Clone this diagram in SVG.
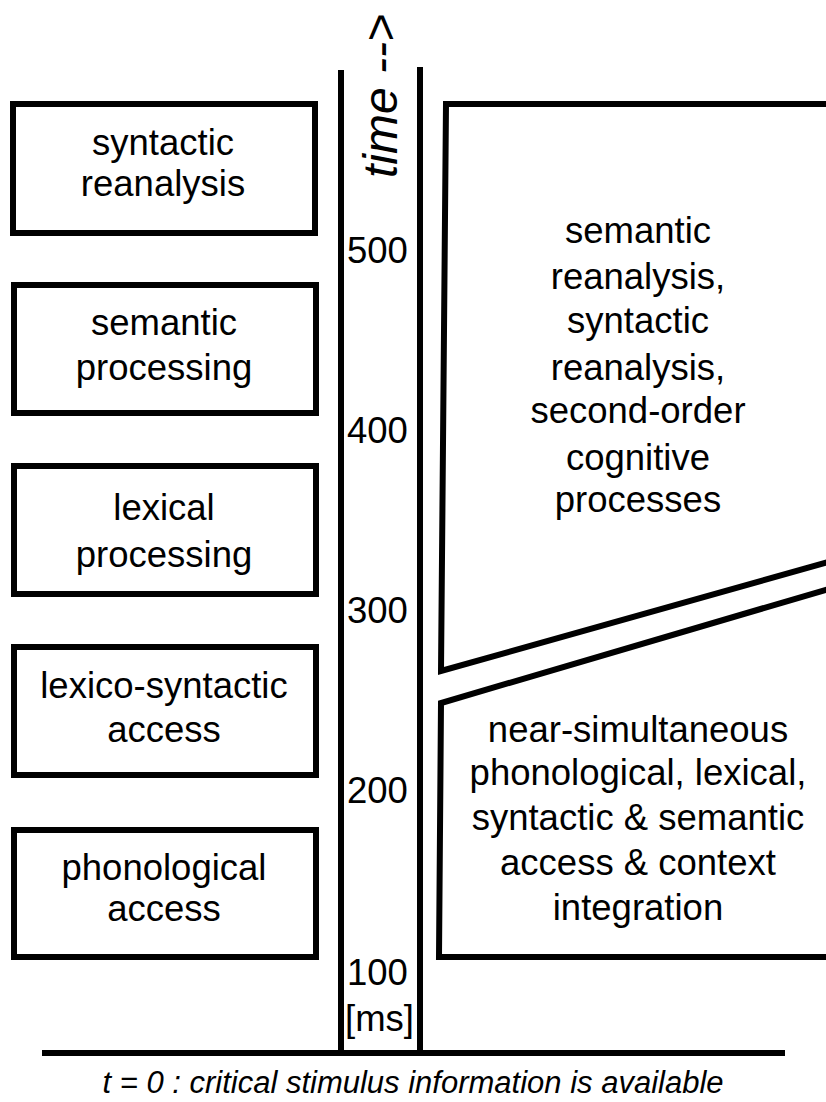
<svg xmlns="http://www.w3.org/2000/svg" width="826" height="1102" viewBox="0 0 826 1102">
<style>
.box{fill:#fff;stroke:#000;stroke-width:6}
.ln{fill:none;stroke:#000;stroke-width:6}
.t{font-family:"Liberation Sans",Arial,sans-serif;font-size:36.5px;fill:#000;text-anchor:middle}
.tick{font-family:"Liberation Sans",Arial,sans-serif;font-size:36.5px;fill:#000}
.it{font-family:"Liberation Sans",Arial,sans-serif;font-style:italic;fill:#000}
</style>
<rect width="826" height="1102" fill="#fff"/>
<g id="axis">
<line class="ln" x1="341" y1="70" x2="341" y2="1053"/>
<line class="ln" x1="420" y1="67" x2="420" y2="1053"/>
<line class="ln" x1="42" y1="1053" x2="785" y2="1053"/>
<text class="it" font-size="48" transform="translate(397,178) rotate(-90)">time --&gt;</text>
<text class="tick" x="347" y="263">500</text>
<text class="tick" x="347" y="443">400</text>
<text class="tick" x="347" y="623">300</text>
<text class="tick" x="347" y="803">200</text>
<text class="tick" x="347" y="985">100</text>
<text class="tick" x="345" y="1031">[ms]</text>
</g>
<g id="syntactic-reanalysis">
<rect class="box" x="13" y="104" width="302" height="129"/>
<text class="t" x="163" y="155">syntactic</text>
<text class="t" x="163" y="196">reanalysis</text>
</g>
<g id="semantic-processing">
<rect class="box" x="14" y="285" width="302" height="128"/>
<text class="t" x="164" y="335">semantic</text>
<text class="t" x="164" y="380">processing</text>
</g>
<g id="lexical-processing">
<rect class="box" x="14" y="466" width="302" height="128"/>
<text class="t" x="164" y="520">lexical</text>
<text class="t" x="164" y="567">processing</text>
</g>
<g id="lexico-syntactic-access">
<rect class="box" x="14" y="647" width="302" height="128"/>
<text class="t" x="164" y="698">lexico-syntactic</text>
<text class="t" x="164" y="742">access</text>
</g>
<g id="phonological-access">
<rect class="box" x="14" y="830" width="302" height="127"/>
<text class="t" x="164" y="880">phonological</text>
<text class="t" x="164" y="921">access</text>
</g>
<g id="late-processes">
<path class="box" d="M832,104 L446,104 L441,671 L832,561"/>
<text class="t" x="638" y="243">semantic</text>
<text class="t" x="638" y="289">reanalysis,</text>
<text class="t" x="638" y="333">syntactic</text>
<text class="t" x="638" y="380">reanalysis,</text>
<text class="t" x="638" y="423">second-order</text>
<text class="t" x="638" y="470">cognitive</text>
<text class="t" x="638" y="512">processes</text>
</g>
<g id="early-processes">
<path class="box" d="M832,588 L441,703 L439,957 L832,957"/>
<text class="t" x="638" y="742">near-simultaneous</text>
<text class="t" x="638" y="785">phonological, lexical,</text>
<text class="t" x="638" y="830">syntactic &amp; semantic</text>
<text class="t" x="638" y="875">access &amp; context</text>
<text class="t" x="638" y="920">integration</text>
</g>
<g id="caption">
<text class="it" font-size="31" x="413" y="1093" text-anchor="middle">t = 0 : critical stimulus information is available</text>
</g>
</svg>
